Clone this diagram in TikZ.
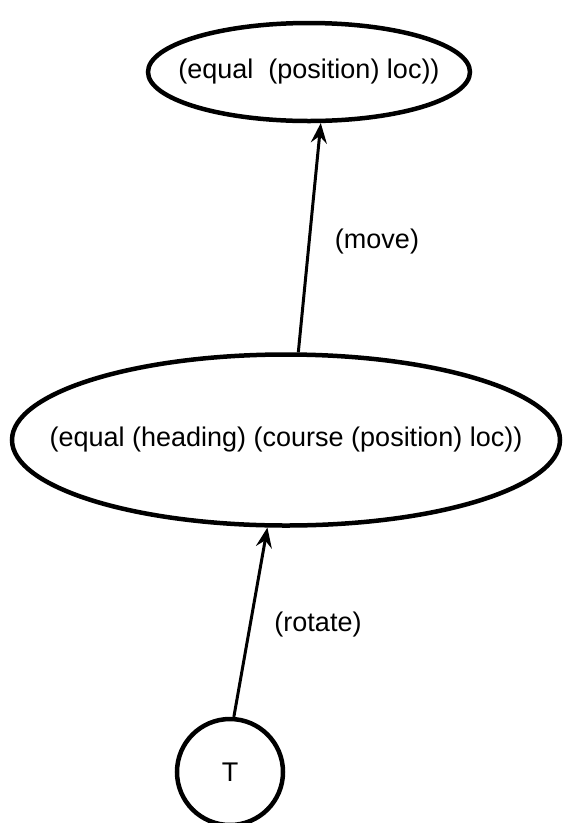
\documentclass[tikz,border=0pt]{standalone}
\usepackage{fontspec}
\setmainfont{Liberation Sans}
\usetikzlibrary{shapes.geometric,arrows.meta}
\begin{document}
\begin{tikzpicture}[x=1pt,y=-1pt,
  every node/.style={font=\fontsize{27}{32}\selectfont},
  state/.style={draw=black, ellipse, line width=4.5pt, inner sep=0pt},
  startnode/.style={draw=black, circle, line width=4.5pt, inner sep=0pt, minimum size=106pt},
  conn/.style={line width=3pt, -{Stealth[length=20pt,width=16pt,inset=7pt]}},
  lbl/.style={inner sep=0pt}]
\useasboundingbox (0,0) rectangle (565,823);
\node[state, minimum width=322pt, minimum height=98pt] (top) at (309,72) {\makebox[0pt]{(equal\ \ (position) loc))}};
\node[state, minimum width=548pt, minimum height=171pt] (mid) at (286,440) {\makebox[0pt]{(equal (heading) (course (position) loc))}};
\node[startnode] (T) at (230,772) {T};
\draw[conn] (mid.82) -- (top.-77.6);
\draw[conn] (T.86.8) -- (mid.-102.5);
\node[lbl] (move) at (377,242) {(move)};
\node[lbl] (rotate) at (318,625) {(rotate)};
\end{tikzpicture}
\end{document}
